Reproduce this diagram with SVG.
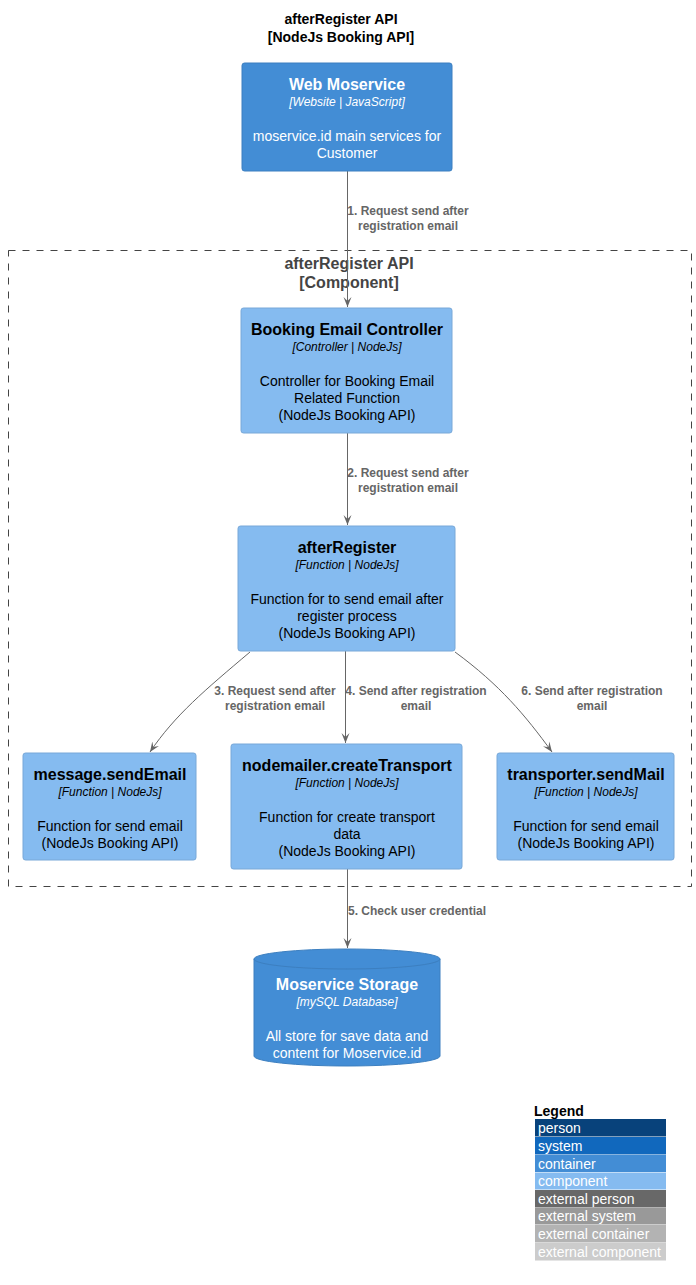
<svg xmlns="http://www.w3.org/2000/svg" width="696" height="1285" viewBox="0 0 696 1285">
<defs>
<style>
text{font-family:"Liberation Sans",Arial,sans-serif;text-anchor:middle}
.ttl{font-size:14px;font-weight:bold;fill:#000}
.bt{font-size:16px;font-weight:bold;fill:#444}
.nt{font-size:16px;font-weight:bold}
.it{font-size:12px;font-style:italic}
.ds{font-size:14px}
.w{fill:#fff}
.k{fill:#000}
.lbl{font-size:12px;font-weight:bold;fill:#666}
.cont{fill:#438DD5;stroke:#3C7FC0;stroke-width:1}
.comp{fill:#85BBF0;stroke:#78A8D8;stroke-width:1}
.edge{fill:none;stroke:#666;stroke-width:1}
.lg{font-size:14px;fill:#fff;text-anchor:start}
</style>
<marker id="ah" viewBox="0 0 10 10" refX="10" refY="5" markerWidth="10" markerHeight="10" markerUnits="userSpaceOnUse" orient="auto">
<path d="M0,1 L10,5 L0,9 L4,5 Z" fill="#666"/>
</marker>
</defs>
<rect width="696" height="1285" fill="#fff"/>
<g id="title">
<text class="ttl" x="341" y="24">afterRegister API</text>
<text class="ttl" x="341" y="42">[NodeJs Booking API]</text>
</g>
<g id="boundary">
<rect x="8.5" y="250.5" width="683" height="636" fill="none" stroke="#444" stroke-width="1" stroke-dasharray="7,7"/>
<text class="bt" x="349" y="269">afterRegister API</text>
<text class="bt" x="349" y="288">[Component]</text>
</g>
<g id="connectors">
<path class="edge" d="M347.5,171 L347.5,307" marker-end="url(#ah)"/>
<text class="lbl" x="408" y="215">1. Request send after</text>
<text class="lbl" x="408" y="230">registration email</text>
<path class="edge" d="M347.5,433 L347.5,525" marker-end="url(#ah)"/>
<text class="lbl" x="408" y="477">2. Request send after</text>
<text class="lbl" x="408" y="492">registration email</text>
<path class="edge" d="M250,652 C205,690 175,715 150,752" marker-end="url(#ah)"/>
<text class="lbl" x="275" y="695">3. Request send after</text>
<text class="lbl" x="275" y="710">registration email</text>
<path class="edge" d="M345.5,651 L345.5,743" marker-end="url(#ah)"/>
<text class="lbl" x="416" y="695">4. Send after registration</text>
<text class="lbl" x="416" y="710">email</text>
<path class="edge" d="M455,652 C500,685 525,715 552,752" marker-end="url(#ah)"/>
<text class="lbl" x="592" y="695">6. Send after registration</text>
<text class="lbl" x="592" y="710">email</text>
<path class="edge" d="M347.5,869 L347.5,948" marker-end="url(#ah)"/>
<text class="lbl" x="417" y="915">5. Check user credential</text>
</g>
<g id="web-moservice">
<rect class="cont" x="242" y="63" width="210" height="108" rx="2.5"/>
<text class="nt w" x="347" y="90">Web Moservice</text>
<text class="it w" x="347" y="106">[Website | JavaScript]</text>
<text class="ds w" x="347" y="141">moservice.id main services for</text>
<text class="ds w" x="347" y="158">Customer</text>
</g>
<g id="booking-email-controller">
<rect class="comp" x="241" y="308" width="211" height="125" rx="2.5"/>
<text class="nt k" x="347" y="335">Booking Email Controller</text>
<text class="it k" x="347" y="351">[Controller | NodeJs]</text>
<text class="ds k" x="347" y="386">Controller for Booking Email</text>
<text class="ds k" x="347" y="403">Related Function</text>
<text class="ds k" x="347" y="420">(NodeJs Booking API)</text>
</g>
<g id="afterRegister">
<rect class="comp" x="238" y="526" width="217" height="125" rx="2.5"/>
<text class="nt k" x="347" y="553">afterRegister</text>
<text class="it k" x="347" y="569">[Function | NodeJs]</text>
<text class="ds k" x="347" y="604">Function for to send email after</text>
<text class="ds k" x="347" y="621">register process</text>
<text class="ds k" x="347" y="638">(NodeJs Booking API)</text>
</g>
<g id="message-sendEmail">
<rect class="comp" x="23" y="753" width="173" height="107" rx="2.5"/>
<text class="nt k" x="110" y="780">message.sendEmail</text>
<text class="it k" x="110" y="796">[Function | NodeJs]</text>
<text class="ds k" x="110" y="831">Function for send email</text>
<text class="ds k" x="110" y="848">(NodeJs Booking API)</text>
</g>
<g id="nodemailer-createTransport">
<rect class="comp" x="231" y="744" width="231" height="125" rx="2.5"/>
<text class="nt k" x="347" y="771">nodemailer.createTransport</text>
<text class="it k" x="347" y="787">[Function | NodeJs]</text>
<text class="ds k" x="347" y="822">Function for create transport</text>
<text class="ds k" x="347" y="839">data</text>
<text class="ds k" x="347" y="856">(NodeJs Booking API)</text>
</g>
<g id="transporter-sendMail">
<rect class="comp" x="497" y="753" width="177" height="107" rx="2.5"/>
<text class="nt k" x="586" y="780">transporter.sendMail</text>
<text class="it k" x="586" y="796">[Function | NodeJs]</text>
<text class="ds k" x="586" y="831">Function for send email</text>
<text class="ds k" x="586" y="848">(NodeJs Booking API)</text>
</g>
<g id="moservice-storage">
<path class="cont" d="M254,959 A93,10 0 0 1 440,959 L440,1056 A93,10 0 0 1 254,1056 Z"/>
<path d="M254,959 A93,10 0 0 0 440,959" fill="none" stroke="#3C7FC0" stroke-width="1"/>
<text class="nt w" x="347" y="990">Moservice Storage</text>
<text class="it w" x="347" y="1006">[mySQL Database]</text>
<text class="ds w" x="347" y="1041">All store for save data and</text>
<text class="ds w" x="347" y="1058">content for Moservice.id</text>
</g>
<g id="legend">
<text x="534" y="1116" style="font-size:14px;font-weight:bold;text-anchor:start" fill="#000">Legend</text>
<rect x="535" y="1119" width="131" height="17.5" fill="#08427B"/>
<rect x="535" y="1137" width="131" height="17.5" fill="#1168BD"/>
<rect x="535" y="1155" width="131" height="17" fill="#438DD5"/>
<rect x="535" y="1172.5" width="131" height="17" fill="#85BBF0"/>
<rect x="535" y="1190" width="131" height="17.5" fill="#686868"/>
<rect x="535" y="1208" width="131" height="16.5" fill="#999999"/>
<rect x="535" y="1225" width="131" height="17.5" fill="#B3B3B3"/>
<rect x="535" y="1243" width="131" height="17.5" fill="#CCCCCC"/>
<text class="lg" x="538" y="1133">person</text>
<text class="lg" x="538" y="1151">system</text>
<text class="lg" x="538" y="1169">container</text>
<text class="lg" x="538" y="1186">component</text>
<text class="lg" x="538" y="1204">external person</text>
<text class="lg" x="538" y="1221">external system</text>
<text class="lg" x="538" y="1239">external container</text>
<text class="lg" x="538" y="1257">external component</text>
</g>
</svg>
